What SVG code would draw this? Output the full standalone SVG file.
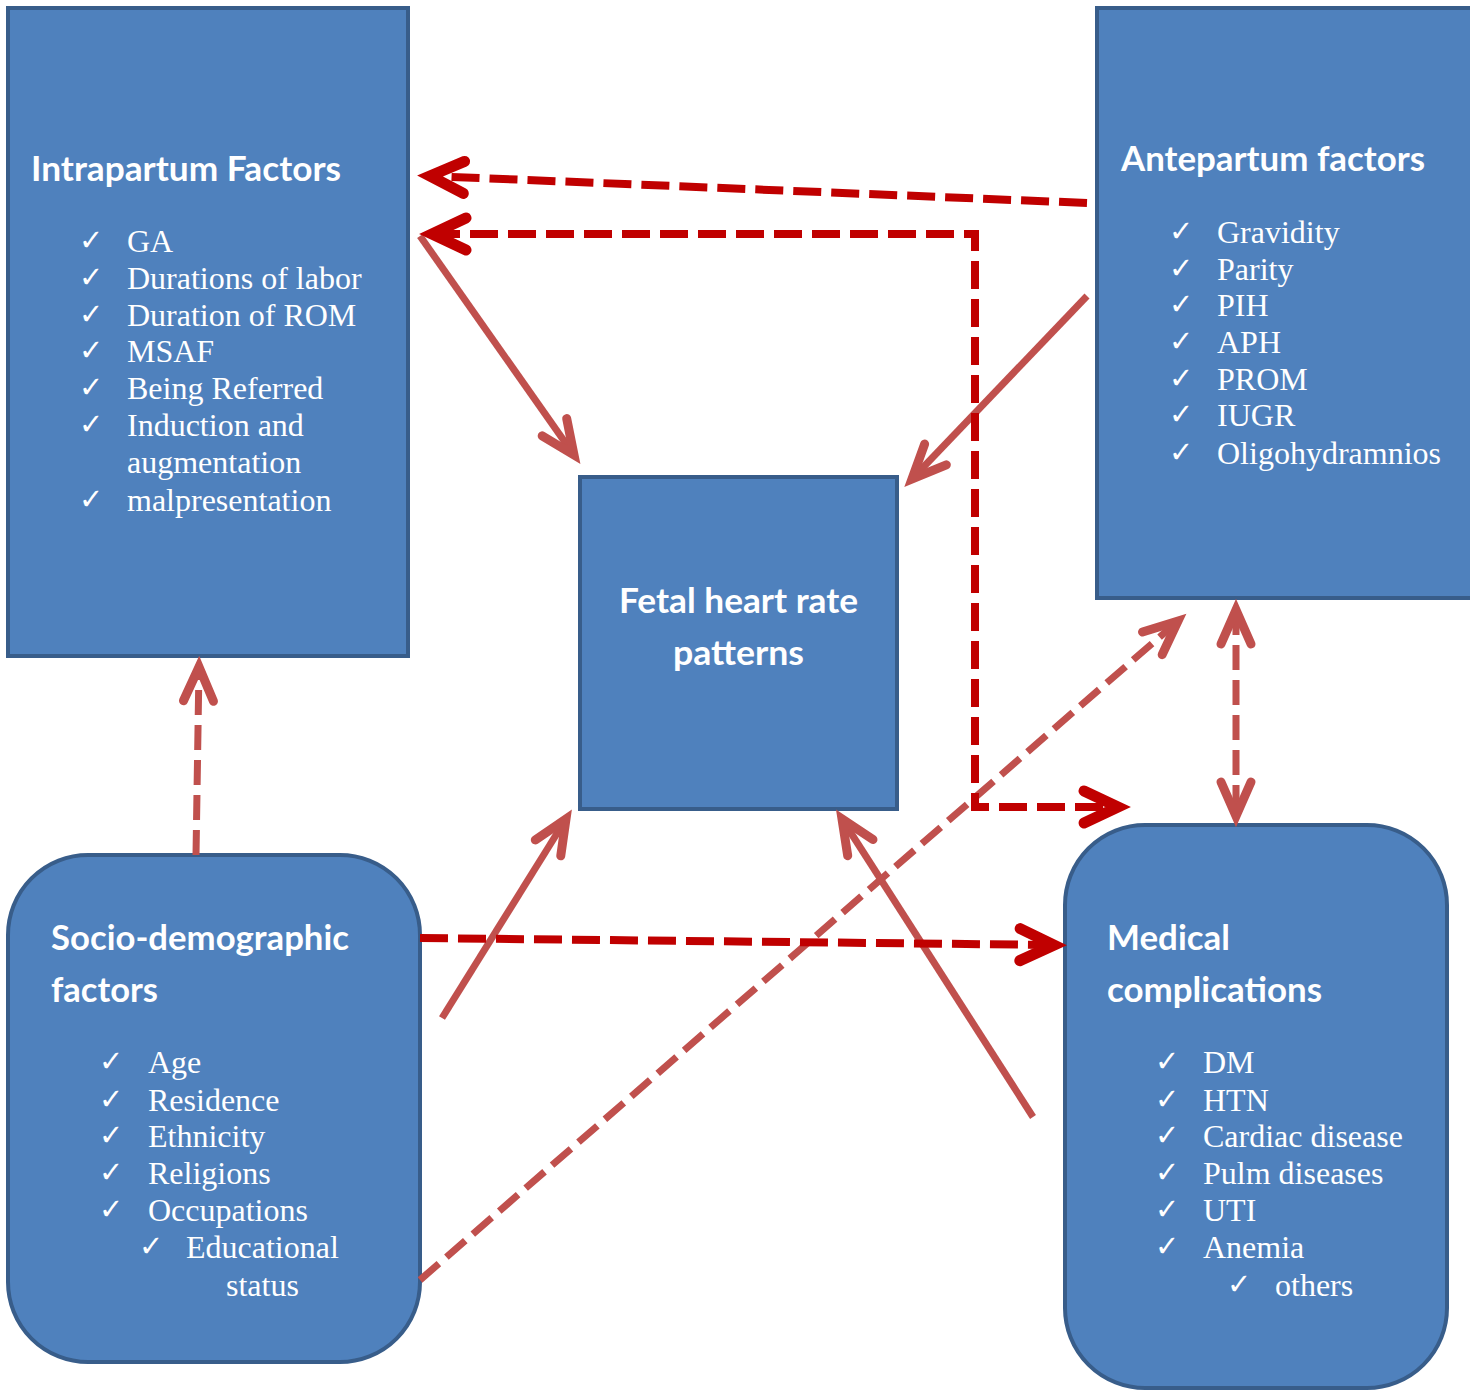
<svg xmlns="http://www.w3.org/2000/svg" width="1470" height="1391" viewBox="0 0 1470 1391">
<defs>
<style>
.box{fill:#4F81BD;stroke:#385D8A;stroke-width:4}
.title{font-family:Lato,"Liberation Sans",sans-serif;font-weight:bold;font-size:34px;fill:#fff}
.item{font-family:"Liberation Serif",serif;font-size:32px;fill:#fff}
.chk{font-family:"DejaVu Sans",sans-serif;font-size:29px;fill:#fff}
.dk{fill:none;stroke:#C00000;stroke-width:8;stroke-dasharray:28 10}
.lt{fill:none;stroke:#C0504D;stroke-width:7}
.ltd{fill:none;stroke:#C0504D;stroke-width:7;stroke-dasharray:25 10}
</style>
<marker id="ad" markerUnits="userSpaceOnUse" markerWidth="60" markerHeight="60" viewBox="-45 -30 60 60" refX="0" refY="0" orient="auto-start-reverse" overflow="visible">
<path d="M -34,-16 L 0,0 L -34,16" fill="none" stroke="#C00000" stroke-width="11" stroke-linecap="round" stroke-linejoin="miter"/>
</marker>
<marker id="al" markerUnits="userSpaceOnUse" markerWidth="60" markerHeight="60" viewBox="-45 -30 60 60" refX="0" refY="0" orient="auto-start-reverse" overflow="visible">
<path d="M -34,-15 L 0,0 L -34,15" fill="none" stroke="#C0504D" stroke-width="9" stroke-linecap="round" stroke-linejoin="miter"/>
</marker>
</defs>
<rect width="1470" height="1391" fill="#fff"/>

<g id="intrapartum">
<rect class="box" x="8" y="8" width="400" height="648"/>
<text class="title" x="31" y="181" textLength="310" lengthAdjust="spacingAndGlyphs">Intrapartum Factors</text>
<g class="chk"><text x="79" y="250">✓</text><text x="79" y="287">✓</text><text x="79" y="324">✓</text><text x="79" y="360">✓</text><text x="79" y="397">✓</text><text x="79" y="434">✓</text><text x="79" y="509">✓</text></g>
<g class="item"><text x="127" y="252">GA</text><text x="127" y="289">Durations of labor</text><text x="127" y="326">Duration of ROM</text><text x="127" y="362">MSAF</text><text x="127" y="399">Being Referred</text><text x="127" y="436">Induction and</text><text x="127" y="473">augmentation</text><text x="127" y="511">malpresentation</text></g>
</g>

<g id="antepartum">
<rect class="box" x="1097" y="8" width="380" height="590"/>
<text class="title" x="1121" y="171" textLength="304" lengthAdjust="spacingAndGlyphs">Antepartum factors</text>
<g class="chk"><text x="1169" y="241">✓</text><text x="1169" y="278">✓</text><text x="1169" y="314">✓</text><text x="1169" y="351">✓</text><text x="1169" y="388">✓</text><text x="1169" y="424">✓</text><text x="1169" y="462">✓</text></g>
<g class="item"><text x="1217" y="243">Gravidity</text><text x="1217" y="280">Parity</text><text x="1217" y="316">PIH</text><text x="1217" y="353">APH</text><text x="1217" y="390">PROM</text><text x="1217" y="426">IUGR</text><text x="1217" y="464">Oligohydramnios</text></g>
</g>

<g id="fhr">
<rect class="box" x="580" y="477" width="317" height="332"/>
<text class="title" x="619" y="613" textLength="239" lengthAdjust="spacingAndGlyphs">Fetal heart rate</text>
<text class="title" x="673" y="665" textLength="131" lengthAdjust="spacingAndGlyphs">patterns</text>
</g>

<g id="socio">
<rect class="box" x="8" y="855" width="412" height="507" rx="80" ry="80"/>
<text class="title" x="51" y="950" textLength="298" lengthAdjust="spacingAndGlyphs">Socio-demographic</text>
<text class="title" x="51" y="1002" textLength="107" lengthAdjust="spacingAndGlyphs">factors</text>
<g class="chk"><text x="99" y="1071">✓</text><text x="99" y="1109">✓</text><text x="99" y="1145">✓</text><text x="99" y="1182">✓</text><text x="99" y="1219">✓</text><text x="139" y="1256">✓</text></g>
<g class="item"><text x="148" y="1073">Age</text><text x="148" y="1111">Residence</text><text x="148" y="1147">Ethnicity</text><text x="148" y="1184">Religions</text><text x="148" y="1221">Occupations</text><text x="186" y="1258">Educational</text><text x="226" y="1296">status</text></g>
</g>

<g id="medical">
<rect class="box" x="1065" y="825" width="382" height="563" rx="80" ry="80"/>
<text class="title" x="1107" y="950" textLength="123" lengthAdjust="spacingAndGlyphs">Medical</text>
<text class="title" x="1107" y="1002" textLength="215" lengthAdjust="spacingAndGlyphs">complications</text>
<g class="chk"><text x="1155" y="1071">✓</text><text x="1155" y="1109">✓</text><text x="1155" y="1145">✓</text><text x="1155" y="1182">✓</text><text x="1155" y="1219">✓</text><text x="1155" y="1256">✓</text><text x="1227" y="1294">✓</text></g>
<g class="item"><text x="1203" y="1073">DM</text><text x="1203" y="1111">HTN</text><text x="1203" y="1147">Cardiac disease</text><text x="1203" y="1184">Pulm diseases</text><text x="1203" y="1221">UTI</text><text x="1203" y="1258">Anemia</text><text x="1275" y="1296">others</text></g>
</g>

<g id="connectors">
<path class="lt" d="M 420,236 L 574,455" marker-end="url(#al)"/>
<path class="lt" d="M 1087,296 L 912,479" marker-end="url(#al)"/>
<path class="lt" d="M 442,1018 L 566,819" marker-end="url(#al)"/>
<path class="lt" d="M 1033,1117 L 842,819" marker-end="url(#al)"/>
<path class="ltd" d="M 420,1280 L 1178,621" marker-end="url(#al)"/>
<path class="ltd" d="M 196,855 L 199,667" marker-end="url(#al)"/>
<path class="ltd" d="M 1236,610 L 1236,816" marker-start="url(#al)" marker-end="url(#al)"/>
<path class="dk" d="M 1087,203 L 430,176" marker-end="url(#ad)"/>
<path class="dk" d="M 432,234 L 975,234 L 975,807 L 1118,807" marker-start="url(#ad)" marker-end="url(#ad)"/>
<path class="dk" d="M 420,938 L 1054,945" marker-end="url(#ad)"/>
</g>
</svg>
